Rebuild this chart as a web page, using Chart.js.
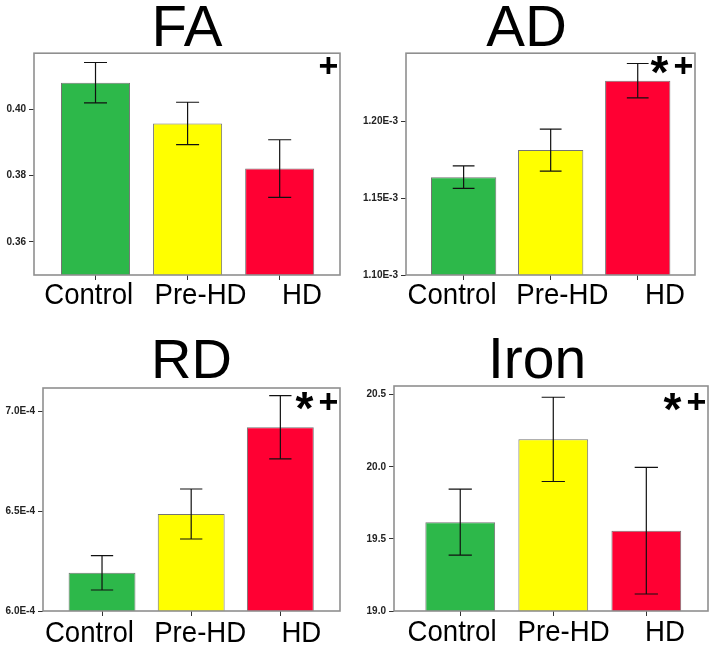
<!DOCTYPE html>
<html><head><meta charset="utf-8">
<script src="https://cdn.jsdelivr.net/npm/chart.js@4.4.1/dist/chart.umd.min.js"></script>
<style>
html,body{margin:0;padding:0;background:#fff;width:716px;height:646px;overflow:hidden;position:relative}
.p{position:absolute}
canvas{display:block}
</style></head><body>
<div class="p" id="w0"><canvas id="c0"></canvas></div>
<div class="p" id="w1"><canvas id="c1"></canvas></div>
<div class="p" id="w2"><canvas id="c2"></canvas></div>
<div class="p" id="w3"><canvas id="c3"></canvas></div>
<script>
// ---- data ----
const categories = ['Control', 'Pre-HD', 'HD'];

const faMeans  = [0.4080, 0.3957, 0.3821];
const faErrors = [0.0061, 0.0064, 0.0087];
const faTicks  = [0.36, 0.38, 0.40];
const faRange  = [0.35, 0.4169];
const faMarks  = ['+'];

const adMeans  = [1.1636e-3, 1.1812e-3, 1.2263e-3];
const adErrors = [0.0073e-3, 0.0137e-3, 0.0112e-3];
const adTicks  = [1.10e-3, 1.15e-3, 1.20e-3];
const adRange  = [1.10e-3, 1.2442e-3];
const adMarks  = ['*', '+'];

const rdMeans  = [6.191e-4, 6.485e-4, 6.919e-4];
const rdErrors = [0.086e-4, 0.125e-4, 0.158e-4];
const rdTicks  = [6.0e-4, 6.5e-4, 7.0e-4];
const rdRange  = [6.0e-4, 7.115e-4];
const rdMarks  = ['*', '+'];

const ironMeans  = [19.616, 20.190, 19.557];
const ironErrors = [0.229, 0.292, 0.439];
const ironTicks  = [19.0, 19.5, 20.0, 20.5];
const ironRange  = [19.0, 20.56];
const ironMarks  = ['*', '+'];

const barColors = ['#2db84a', '#ffff00', '#ff0033'];

// ---- layout / style ----
const FONT = "'Liberation Sans', Arial, Helvetica, sans-serif";
const TITLE_LH = 0.8;
const LABEL_SIZE = 30;
const LABEL_SQUEEZE = 0.92;

const panels = [
  {title: 'FA', means: faMeans, errors: faErrors, ticks: faTicks, range: faRange, marks: faMarks,
   fmt: v => v.toFixed(2), titleSize: 58, titleCY: 24, labelDx: [-6.8, 12.9, 22.3], labelDy: 29.3,
   canvas: {left: 0, top: 0, width: 358, height: 318}, box: {left: 34, right: 340, top: 53, bottom: 275},
   xRange: [-0.668, 2.655], fullSize: false, markDy: 12},
  {title: 'AD', means: adMeans, errors: adErrors, ticks: adTicks, range: adRange, marks: adMarks,
   fmt: v => v.toExponential(2).toUpperCase(), titleSize: 58, titleCY: 24, labelDx: [-11.6, 11.7, 27.2], labelDy: 29.3,
   canvas: {left: 358, top: 0, width: 358, height: 318}, box: {left: 406, right: 695, top: 53, bottom: 275},
   xRange: [-0.662, 2.658], fullSize: true, markDy: 12},
  {title: 'RD', means: rdMeans, errors: rdErrors, ticks: rdTicks, range: rdRange, marks: rdMarks,
   fmt: v => v.toExponential(1).toUpperCase(), titleSize: 56, titleCY: 356.7, labelDx: [-12.6, 9, 21], labelDy: 30.5,
   canvas: {left: 0, top: 326, width: 358, height: 320}, box: {left: 43, right: 340, top: 388, bottom: 611},
   xRange: [-0.662, 2.669], fullSize: false, markDy: 13},
  {title: 'Iron', means: ironMeans, errors: ironErrors, ticks: ironTicks, range: ironRange, marks: ironMarks,
   fmt: v => v.toFixed(1), titleSize: 57, titleCY: 355.8, labelDx: [-8.2, 10.3, 18.7], labelDy: 29.5,
   canvas: {left: 366, top: 326, width: 350, height: 320}, box: {left: 394, right: 708, top: 386, bottom: 611},
   xRange: [-0.712, 2.663], fullSize: true, markDy: 15.5}
];

const errorBars = {
  id: 'errorBars',
  afterDatasetsDraw(chart, args, opts) {
    const {ctx, chartArea: a} = chart;
    const meta = chart.getDatasetMeta(0);
    const ys = chart.scales.y;
    const xs = chart.scales.x;
    ctx.save();
    // plot frame
    ctx.strokeStyle = '#8f8f8f';
    ctx.lineWidth = 1.6;
    ctx.strokeRect(a.left, a.top, a.right - a.left, a.bottom - a.top);
    // error bars
    ctx.strokeStyle = '#111';
    ctx.lineWidth = 1.2;
    opts.means.forEach((m, i) => {
      const bar = meta.data[i];
      const x = bar.x;
      const half = bar.width / 6;
      const yt = ys.getPixelForValue(m + opts.errors[i]);
      const yb = ys.getPixelForValue(m - opts.errors[i]);
      ctx.beginPath();
      ctx.moveTo(x, yt); ctx.lineTo(x, yb);
      ctx.moveTo(x - half, yt); ctx.lineTo(x + half, yt);
      ctx.moveTo(x - half, yb); ctx.lineTo(x + half, yb);
      ctx.stroke();
    });
    // significance marks
    ctx.fillStyle = '#000';
    const cy = a.top + opts.markDy;
    const placed = opts.marks.slice().reverse();
    placed.forEach((ch, k) => {
      const cx = a.right - 11.5 - k * 24;
      const size = ch === '*' ? 46 : 34;
      ctx.font = `bold ${size}px ${FONT}`;
      ctx.textAlign = 'left';
      ctx.textBaseline = 'alphabetic';
      const mt = ctx.measureText(ch);
      const x = cx - (mt.actualBoundingBoxRight - mt.actualBoundingBoxLeft) / 2;
      const y = cy + (mt.actualBoundingBoxAscent - mt.actualBoundingBoxDescent) / 2;
      ctx.fillText(ch, x, y);
    });
    // category labels (condensed)
    ctx.font = `${LABEL_SIZE}px ${FONT}`;
    ctx.textAlign = 'center';
    ctx.textBaseline = 'alphabetic';
    categories.forEach((c, i) => {
      ctx.save();
      ctx.translate(xs.getPixelForValue(i) + opts.labelDx[i], a.bottom + opts.labelDy);
      ctx.scale(LABEL_SQUEEZE, 1);
      ctx.fillText(c, 0, 0);
      ctx.restore();
    });
    ctx.restore();
  }
};

panels.forEach((p, idx) => {
  const wrap = document.getElementById('w' + idx);
  wrap.style.left = p.canvas.left + 'px';
  wrap.style.top = p.canvas.top + 'px';
  const cv = document.getElementById('c' + idx);
  cv.width = p.canvas.width; cv.height = p.canvas.height;
  cv.style.width = p.canvas.width + 'px'; cv.style.height = p.canvas.height + 'px';

  const yAxisW = p.box.left - p.canvas.left;
  const xAxisH = p.canvas.top + p.canvas.height - p.box.bottom;
  const padRight = p.canvas.left + p.canvas.width - p.box.right;
  const lineH = TITLE_LH * p.titleSize;
  const titlePadTop = Math.max(0, p.titleCY + 6 - lineH / 2 - p.canvas.top);
  const titlePadBottom = Math.max(0, p.box.top - p.canvas.top - titlePadTop - lineH);

  new Chart(cv, {
    type: 'bar',
    data: {
      datasets: [{
        data: p.means.map((v, i) => ({x: i, y: v})),
        backgroundColor: barColors,
        borderColor: 'rgba(70,70,70,0.75)',
        borderWidth: 1,
        barPercentage: 0.75,
        categoryPercentage: 1
      }]
    },
    options: {
      responsive: false,
      animation: false,
      devicePixelRatio: 1,
      layout: {padding: {left: 0, right: padRight, top: 0, bottom: 0}},
      plugins: {
        legend: {display: false},
        tooltip: {enabled: false},
        title: {
          display: true, text: p.title, fullSize: p.fullSize,
          color: '#000',
          font: {family: FONT, size: p.titleSize, weight: 'normal', lineHeight: TITLE_LH},
          padding: {top: titlePadTop, bottom: titlePadBottom}
        },
        errorBars: {means: p.means, errors: p.errors, marks: p.marks, markDy: p.markDy, labelDx: p.labelDx, labelDy: p.labelDy}
      },
      scales: {
        x: {
          type: 'linear', min: p.xRange[0], max: p.xRange[1], offset: false,
          afterBuildTicks: s => { s.ticks = categories.map((c, i) => ({value: i})); },
          afterFit: s => { s.height = xAxisH; },
          grid: {display: true, offset: false, drawOnChartArea: false, drawTicks: true, tickLength: 5, color: '#333'},
          border: {display: false},
          ticks: {display: false, callback: (v, i) => categories[i]}
        },
        y: {
          min: p.range[0], max: p.range[1],
          afterBuildTicks: s => { s.ticks = p.ticks.map(v => ({value: v})); },
          afterFit: s => { s.width = yAxisW; },
          grid: {display: true, drawOnChartArea: false, drawTicks: true, tickLength: 5, color: '#333'},
          border: {display: false},
          ticks: {
            padding: 3, color: '#222',
            font: {family: FONT, size: 10, weight: 'bold'},
            callback: v => p.fmt(v)
          }
        }
      }
    },
    plugins: [errorBars]
  });
});
</script>
</body></html>
